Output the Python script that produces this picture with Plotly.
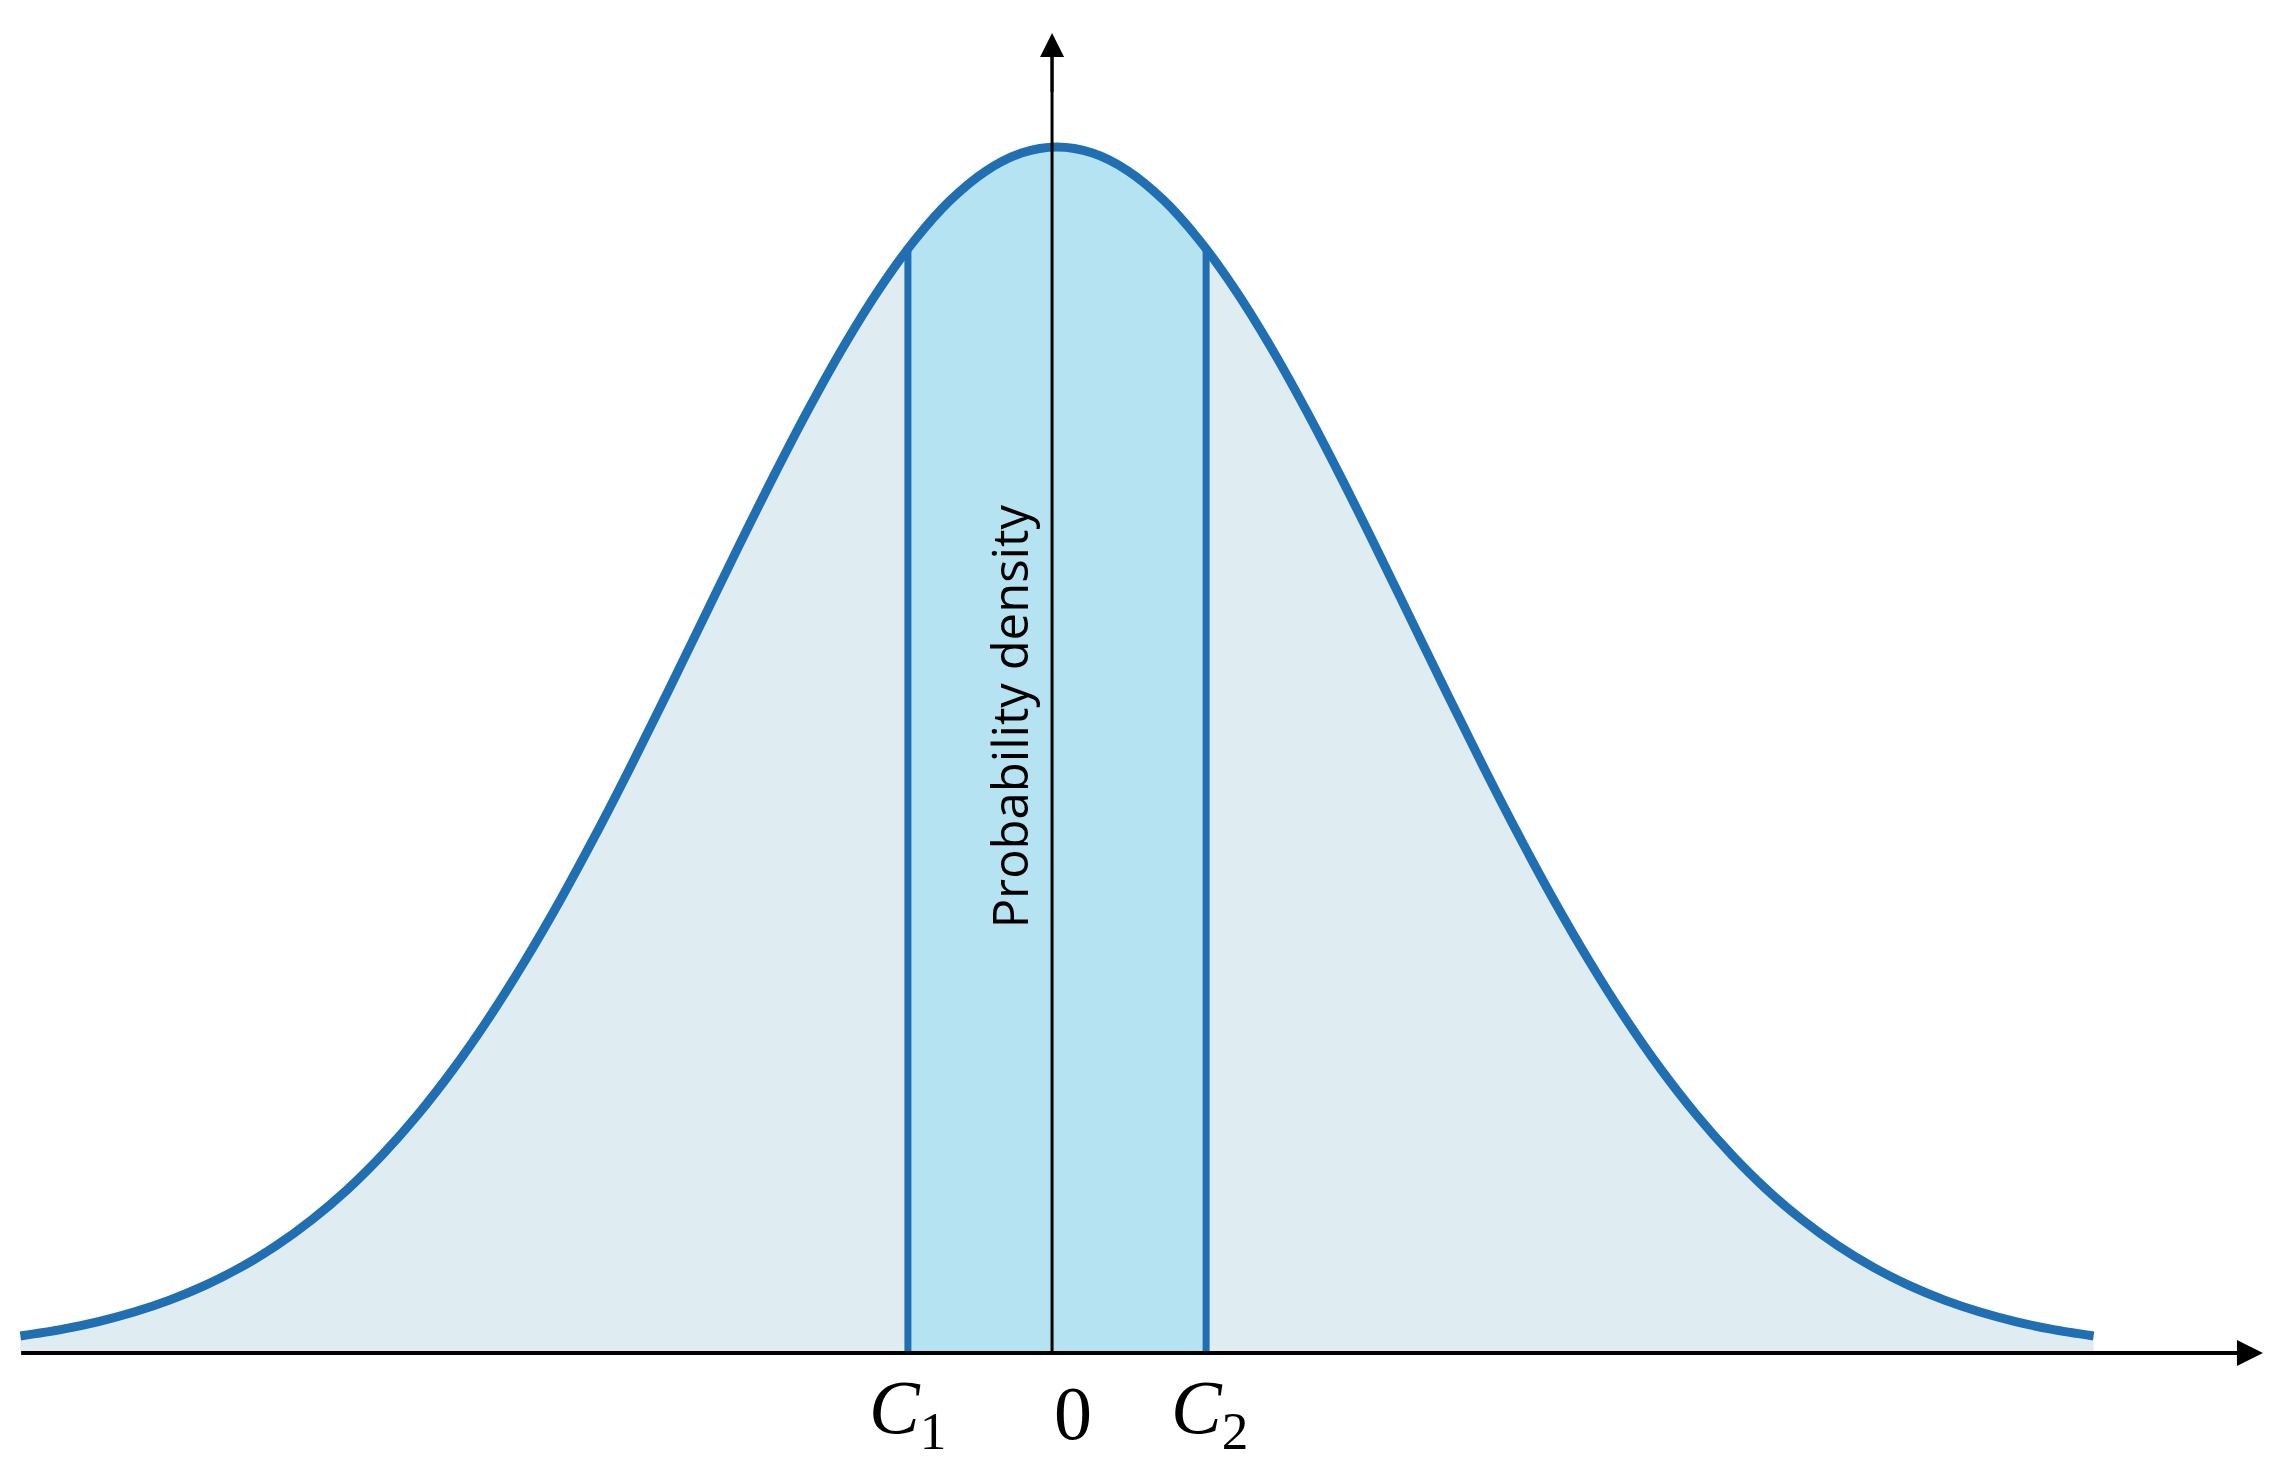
import plotly.graph_objects as go

x_half = [0.0, 0.1, 0.2, 0.3, 0.4, 0.5, 0.6, 0.7, 0.8, 0.9, 1.0, 1.1, 1.2, 1.3, 1.4, 1.5,
          1.6, 1.7, 1.8, 1.9, 2.0, 2.1, 2.2, 2.3, 2.4, 2.5, 2.6, 2.7, 2.8, 2.92]
y_half = [1.0000, 0.9950, 0.9802, 0.9560, 0.9231, 0.8825, 0.8353, 0.7827, 0.7261, 0.6670, 0.6065,
          0.5461, 0.4868, 0.4296, 0.3753, 0.3247, 0.2780, 0.2357, 0.1979, 0.1645, 0.1353, 0.1103,
          0.0889, 0.0710, 0.0561, 0.0439, 0.0340, 0.0261, 0.0198, 0.0141]
x_vals = [-v for v in x_half[:0:-1]] + x_half
y_vals = y_half[:0:-1] + y_half
c1, c2 = -0.42, 0.42
c1_height, c2_height = 0.9156, 0.9156
tick_positions = [-0.42, 0.045, 0.43]
tick_labels = ["<i>C</i><sub>1</sub>", "0", "<i>C</i><sub>2</sub>"]
yaxis_x = -0.014
xaxis_start, xaxis_end = -2.918, 3.397
yaxis_top = 1.0945

BLUE = "#1F6FB2"
LIGHT = "#DFEDF2"
MID = "#B6E3F2"

fig = go.Figure()
fig.add_trace(go.Scatter(x=x_vals, y=y_vals, mode="lines", line=dict(width=0, shape="spline"),
                         fill="tozeroy", fillcolor=LIGHT, hoverinfo="skip"))
inner = [(c1, c1_height)] + [(x, y) for x, y in zip(x_vals, y_vals) if c1 < x < c2] + [(c2, c2_height)]
fig.add_trace(go.Scatter(x=[p[0] for p in inner], y=[p[1] for p in inner], mode="lines",
                         line=dict(width=0, shape="spline"), fill="tozeroy", fillcolor=MID, hoverinfo="skip"))
fig.add_trace(go.Scatter(x=x_vals, y=y_vals, mode="lines", line=dict(color=BLUE, width=9, shape="spline")))
fig.add_trace(go.Scatter(x=[c1, c1], y=[0, c1_height], mode="lines", line=dict(color=BLUE, width=7)))
fig.add_trace(go.Scatter(x=[c2, c2], y=[0, c2_height], mode="lines", line=dict(color=BLUE, width=7)))
fig.add_trace(go.Scatter(x=[yaxis_x, yaxis_x], y=[0, yaxis_top - 0.01], mode="lines", line=dict(color="black", width=3)))
fig.add_trace(go.Scatter(x=[xaxis_start, xaxis_end - 0.02], y=[0, 0], mode="lines", line=dict(color="black", width=4)))

# arrow heads
fig.add_annotation(x=yaxis_x, y=yaxis_top, ax=yaxis_x, ay=yaxis_top - 0.05, axref="x", ayref="y",
                   showarrow=True, arrowhead=2, arrowsize=1.6, arrowwidth=3, arrowcolor="black", text="")
fig.add_annotation(x=xaxis_end, y=0, ax=xaxis_end - 0.15, ay=0, axref="x", ayref="y",
                   showarrow=True, arrowhead=2, arrowsize=1.3, arrowwidth=4, arrowcolor="black", text="")

for pos, lab in zip(tick_positions, tick_labels):
    fig.add_annotation(x=pos, y=-0.050, text=lab, showarrow=False, xanchor="center", yanchor="middle",
                       font=dict(family="Liberation Serif", size=76, color="black"))

fig.add_annotation(x=-0.135, y=0.528, text="Probability density", textangle=-90, showarrow=False,
                   xanchor="center", yanchor="middle", font=dict(family="Open Sans", size=49, color="black"))

fig.update_layout(width=2267, height=1456, margin=dict(l=0, r=0, t=0, b=0),
                  paper_bgcolor="white", plot_bgcolor="white", showlegend=False,
                  xaxis=dict(range=[-2.955, 3.431], visible=False, fixedrange=True),
                  yaxis=dict(range=[-0.0920, 1.1153], visible=False, fixedrange=True))
fig.write_html("out.html")
